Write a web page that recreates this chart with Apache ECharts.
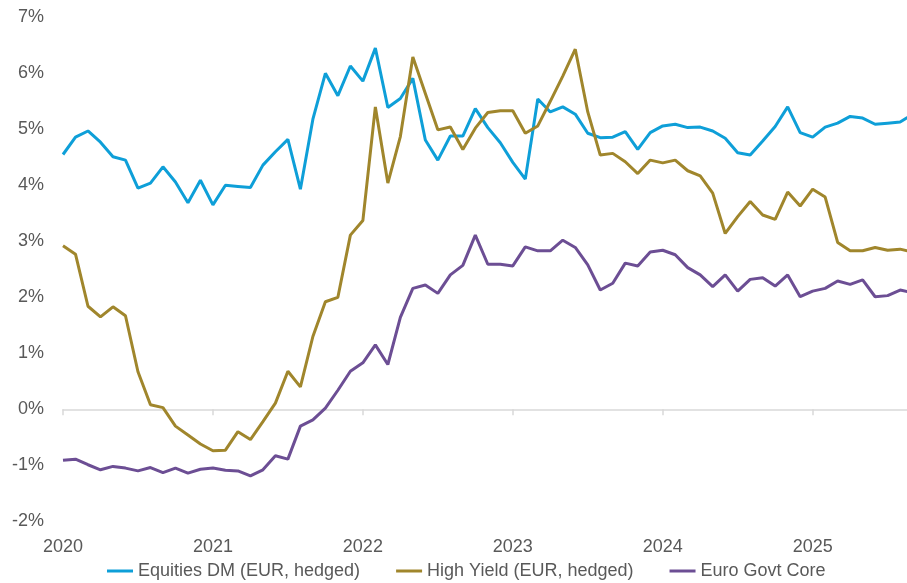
<!DOCTYPE html>
<html lang="en">
<head>
  <meta charset="UTF-8">
  <title>yields</title>
  <style>
    html,
    body,
    #main {
      margin: 0;
      padding: 0;
    }

    #main {
      width: 907px;
      height: 583px;
    }
  </style>
</head>
<body>
  <div id="main"></div>
  <script src="https://cdn.jsdelivr.net/npm/echarts@6/dist/echarts.min.js"></script>
  <script>
    // monthly, Jan 2020 onwards (index 0 = Jan 2020)
    const startYear = 2020;
    const yearTicks = [0, 12, 24, 36, 48, 60];
    const seriesNames = ['Equities DM (EUR, hedged)', 'High Yield (EUR, hedged)', 'Euro Govt Core'];
    const colors = ['#0E9FD8', '#A0862C', '#6C4E94'];

    const equitiesDM = [
      4.55, 4.86, 4.97, 4.77, 4.51, 4.45, 3.95, 4.04, 4.33, 4.06, 3.69, 4.09,
      3.65, 4.00, 3.98, 3.96, 4.36, 4.60, 4.82, 3.93, 5.18, 6.00, 5.60, 6.13,
      5.86, 6.45, 5.39, 5.55, 5.91, 4.81, 4.45, 4.88, 4.88, 5.37, 5.03, 4.76,
      4.41, 4.11, 5.54, 5.31, 5.40, 5.27, 4.93, 4.85, 4.86, 4.96, 4.64, 4.94,
      5.06, 5.09, 5.03, 5.04, 4.97, 4.84, 4.58, 4.54, 4.79, 5.05, 5.40, 4.94,
      4.86, 5.04, 5.11, 5.23, 5.20, 5.09, 5.11, 5.13, 5.27
    ];
    const highYield = [
      2.92, 2.77, 1.84, 1.65, 1.83, 1.67, 0.67, 0.08, 0.03, -0.30, -0.46, -0.62,
      -0.74, -0.73, -0.40, -0.54, -0.22, 0.11, 0.68, 0.40, 1.30, 1.92, 2.00, 3.11,
      3.37, 5.40, 4.04, 4.87, 6.29, 5.64, 4.99, 5.04, 4.64, 5.02, 5.30, 5.33,
      5.33, 4.93, 5.06, 5.50, 5.95, 6.43, 5.31, 4.54, 4.57, 4.42, 4.21, 4.45,
      4.40, 4.45, 4.26, 4.17, 3.86, 3.14, 3.44, 3.71, 3.47, 3.39, 3.88, 3.63,
      3.93, 3.79, 2.98, 2.83, 2.83, 2.89, 2.84, 2.86, 2.81
    ];
    const euroGovtCore = [
      -0.91, -0.89, -0.99, -1.08, -1.02, -1.05, -1.10, -1.04, -1.13, -1.05, -1.14, -1.07,
      -1.05, -1.09, -1.10, -1.19, -1.08, -0.83, -0.89, -0.30, -0.19, 0.02, 0.34, 0.68,
      0.83, 1.15, 0.80, 1.64, 2.16, 2.22, 2.07, 2.40, 2.57, 3.11, 2.59, 2.59,
      2.56, 2.90, 2.83, 2.83, 3.02, 2.89, 2.58, 2.13, 2.25, 2.61, 2.56, 2.81,
      2.84, 2.76, 2.53, 2.40, 2.19, 2.40, 2.11, 2.32, 2.35, 2.20, 2.40, 2.01,
      2.11, 2.16, 2.29, 2.23, 2.31, 2.01, 2.03, 2.13, 2.08
    ];

    const pairs = arr => arr.map((v, i) => [i, v]);
    const labelColor = '#595959';
    const font = 'Liberation Sans, Arial, sans-serif';

    const myChart = echarts.init(document.getElementById('main'));
    const option = {
      animation: false,
      color: colors,
      textStyle: { fontFamily: font },
      grid: { left: 63, right: 0, top: 17.3, bottom: 61.7 },
      legend: {
        left: 107,
        top: 562,
        padding: 0,
        icon: 'rect',
        itemWidth: 26,
        itemHeight: 3,
        itemGap: 36,
        textStyle: { color: labelColor, fontSize: 18, fontFamily: font },
        data: seriesNames
      },
      xAxis: [{
        type: 'value',
        min: 0,
        max: 67.55,
        interval: 12,
        axisLine: { onZero: true, lineStyle: { color: '#d9d9d9', width: 1.5 } },
        axisTick: { show: true, length: 6, customValues: yearTicks, lineStyle: { color: '#d9d9d9', width: 1.5 } },
        axisLabel: { show: false },
        splitLine: { show: false }
      }, {
        type: 'value',
        position: 'bottom',
        min: 0,
        max: 67.55,
        interval: 12,
        axisLine: { show: false, onZero: false },
        axisTick: { show: false },
        splitLine: { show: false },
        axisLabel: {
          color: labelColor,
          fontSize: 18,
          margin: 17,
          customValues: yearTicks,
          formatter: v => String(startYear + v / 12)
        }
      }],
      yAxis: {
        type: 'value',
        min: -2,
        max: 7,
        interval: 1,
        axisLine: { show: false },
        axisTick: { show: false },
        splitLine: { show: false },
        axisLabel: {
          color: labelColor,
          fontSize: 18,
          margin: 19,
          formatter: v => v + '%'
        }
      },
      series: [
        { name: seriesNames[0], type: 'line', data: pairs(equitiesDM), symbol: 'none', lineStyle: { width: 3 } },
        { name: seriesNames[1], type: 'line', data: pairs(highYield), symbol: 'none', lineStyle: { width: 3 } },
        { name: seriesNames[2], type: 'line', data: pairs(euroGovtCore), symbol: 'none', lineStyle: { width: 3 } }
      ]
    };

    myChart.setOption(option);
  </script>
</body>
</html>
